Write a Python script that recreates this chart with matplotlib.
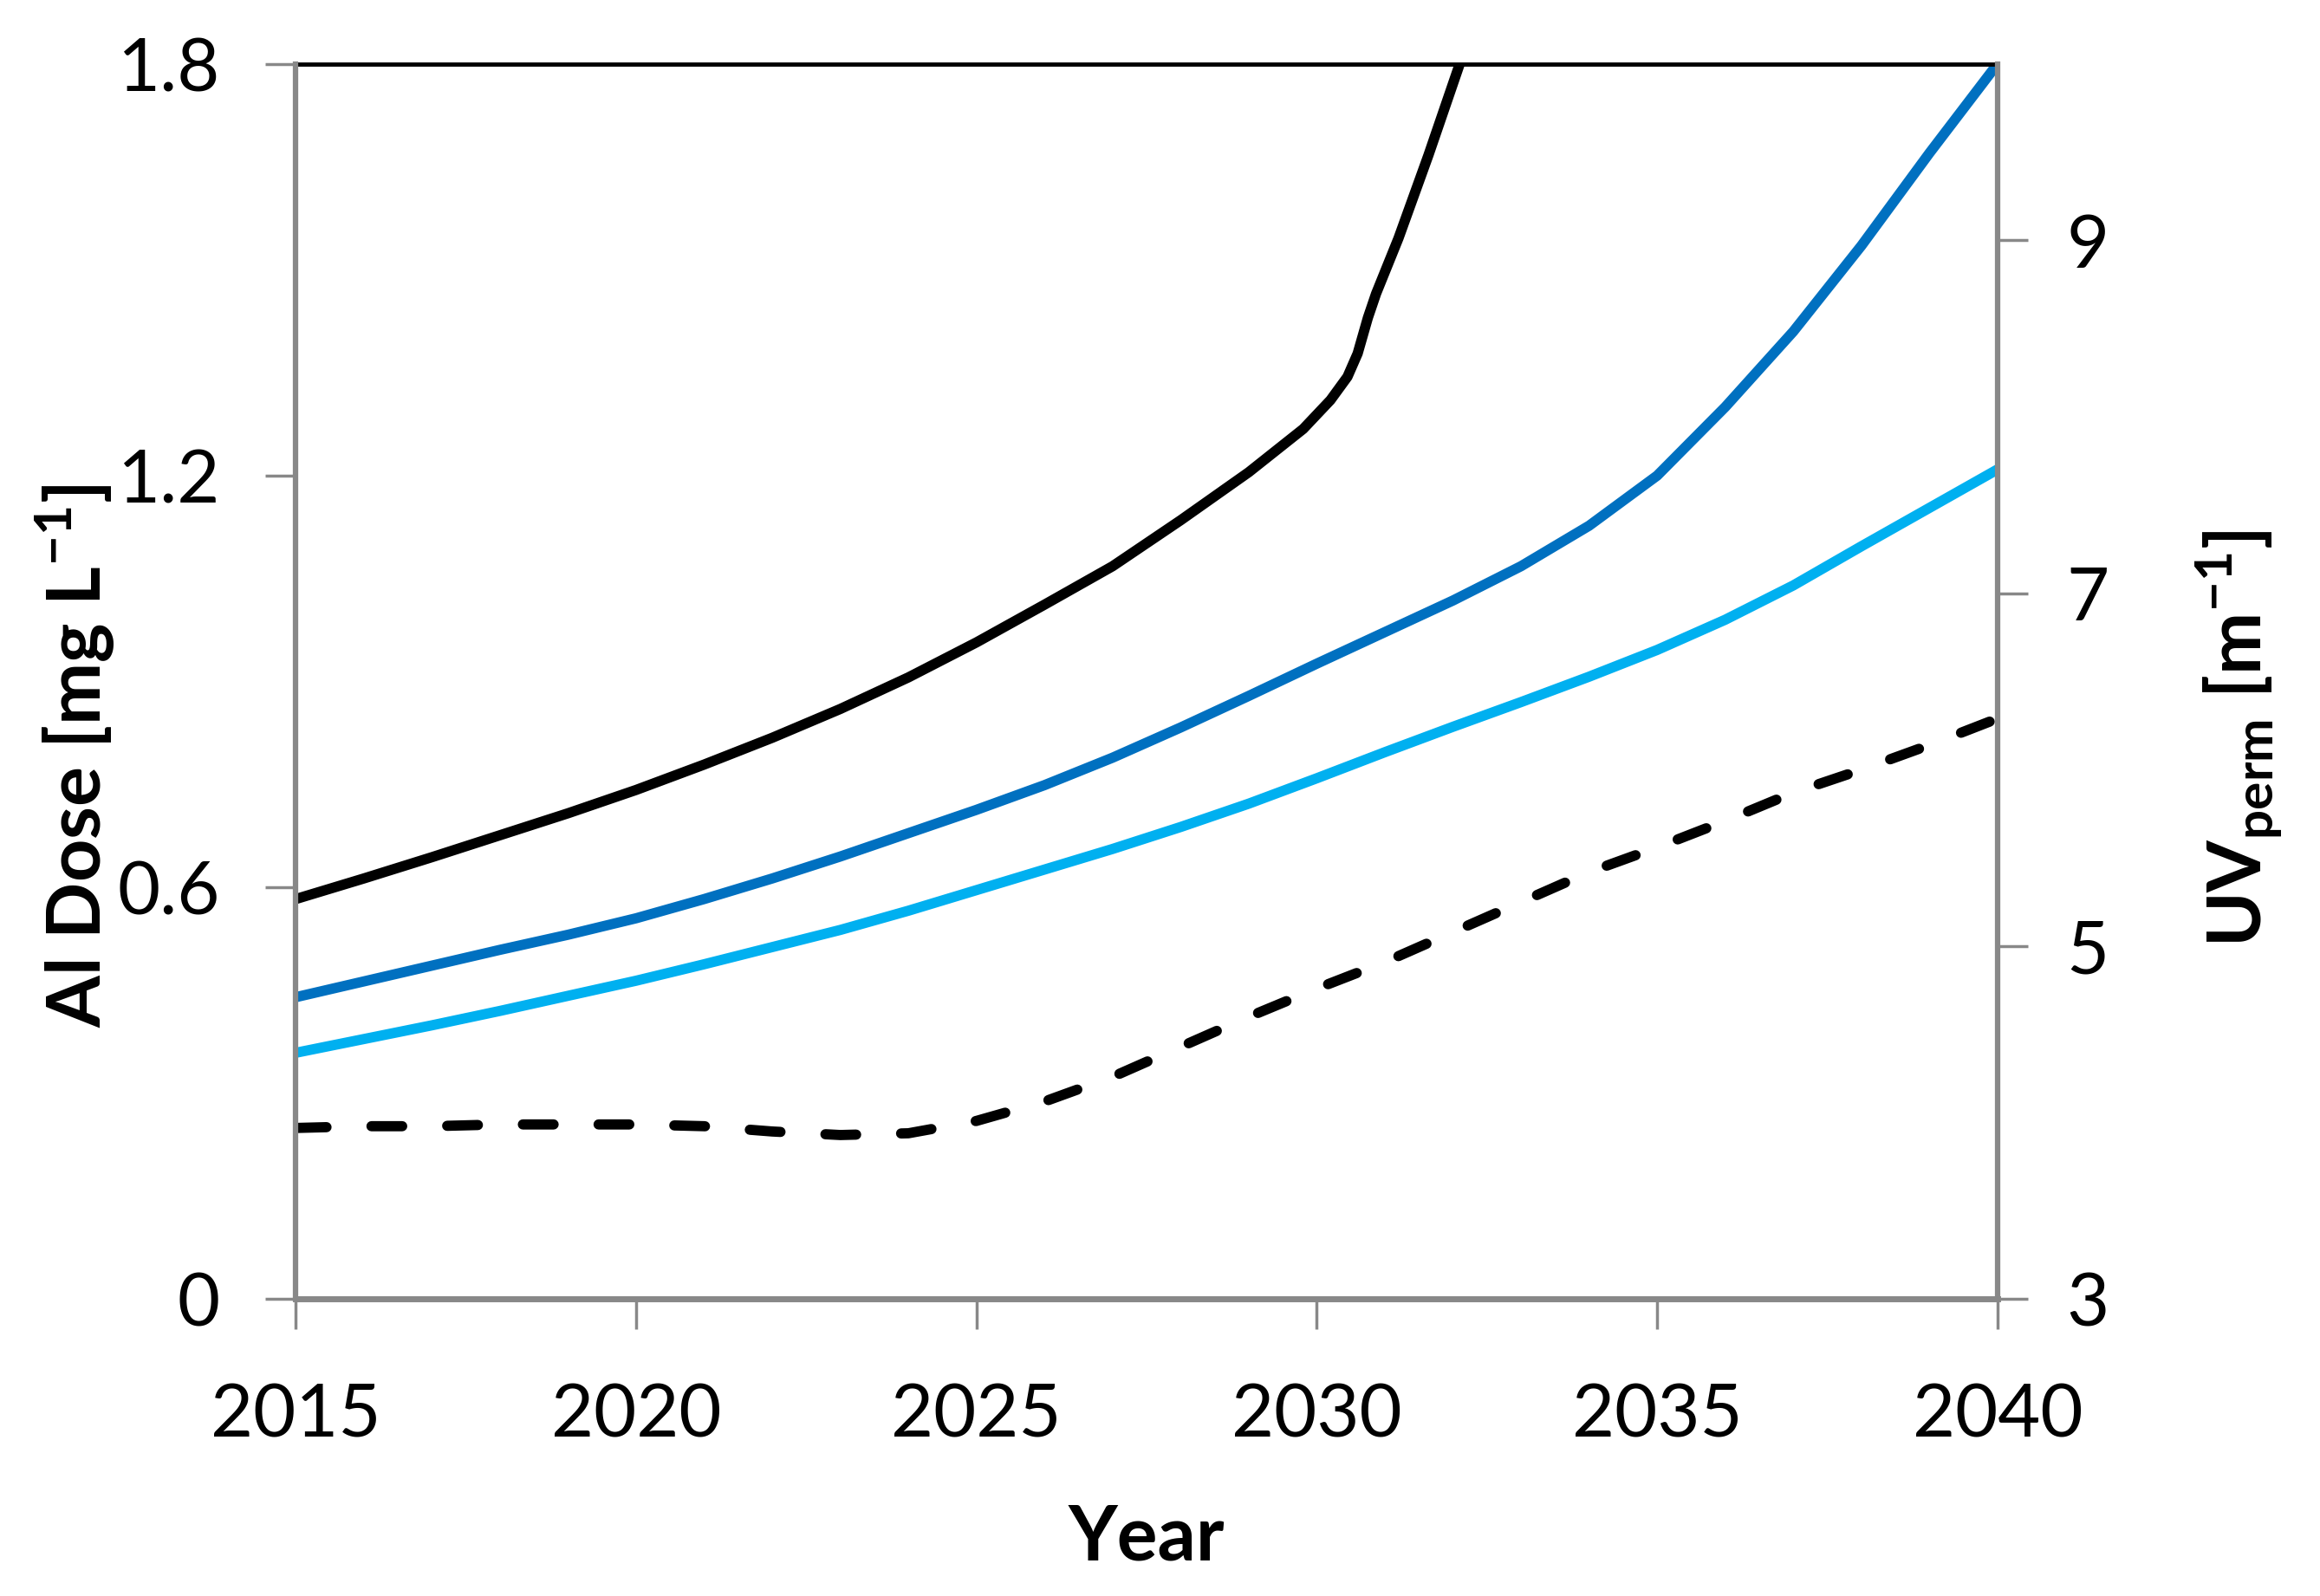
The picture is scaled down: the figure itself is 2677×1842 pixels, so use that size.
import matplotlib
matplotlib.use("Agg")
import matplotlib.pyplot as plt

plt.rcParams['font.family'] = ['Lato', 'DejaVu Sans']
plt.rcParams['mathtext.fontset'] = 'custom'
plt.rcParams['mathtext.rm'] = 'Lato'
plt.rcParams['mathtext.bf'] = 'Lato:bold'

# Data
years_black = [2015, 2016, 2017, 2018, 2019, 2020, 2021, 2022, 2023, 2024, 2025, 2026,
               2027, 2028, 2029, 2029.8, 2030.2, 2030.45, 2030.6, 2030.75, 2030.87,
               2031.2, 2031.64, 2032.1, 2032.4]
al_black = [0.583, 0.613, 0.644, 0.676, 0.708, 0.742, 0.779, 0.818, 0.860, 0.906, 0.957, 1.012,
            1.068, 1.135, 1.205, 1.268, 1.310, 1.344, 1.378, 1.430, 1.465,
            1.546, 1.667, 1.800, 1.890]

years_dark = [2015, 2016, 2017, 2018, 2019, 2020, 2021, 2022, 2023, 2024, 2025, 2026, 2027,
              2028, 2029, 2030, 2031, 2032, 2033, 2034, 2035, 2036, 2037, 2038, 2039, 2040]
al_dark = [0.440, 0.463, 0.486, 0.509, 0.531, 0.555, 0.583, 0.613, 0.645, 0.679, 0.713, 0.749, 0.789,
           0.833, 0.879, 0.926, 0.972, 1.018, 1.068, 1.127, 1.200, 1.300, 1.410, 1.535, 1.670, 1.800]

years_light = [2015, 2016, 2017, 2018, 2019, 2020, 2021, 2022, 2023, 2024, 2025, 2026, 2027,
               2028, 2029, 2030, 2031, 2032, 2033, 2034, 2035, 2036, 2037, 2038, 2039, 2040]
al_light = [0.359, 0.379, 0.399, 0.420, 0.442, 0.464, 0.488, 0.513, 0.538, 0.566, 0.596, 0.626, 0.656,
            0.688, 0.722, 0.759, 0.797, 0.834, 0.870, 0.907, 0.946, 0.990, 1.040, 1.097, 1.153, 1.209]

years_uv = [2015, 2016, 2017, 2018, 2019, 2020, 2021, 2022, 2023, 2024, 2025, 2026, 2027,
            2028, 2029, 2030, 2031, 2032, 2033, 2034, 2035, 2036, 2037, 2038, 2039, 2040]
uv_perm = [3.97, 3.98, 3.98, 3.99, 3.99, 3.99, 3.98, 3.95, 3.93, 3.94, 4.01, 4.12, 4.26,
           4.43, 4.60, 4.76, 4.91, 5.08, 5.25, 5.42, 5.56, 5.71, 5.87, 6.00, 6.14, 6.29]

left_ticks = [0, 0.6, 1.2, 1.8]
left_labels = ['0', '0.6', '1.2', '1.8']
right_ticks = [3, 5, 7, 9]
x_ticks = [2015, 2020, 2025, 2030, 2035, 2040]

fig = plt.figure(figsize=(26.77, 18.42), dpi=100)
ax = fig.add_axes([0.1275, 0.186, 0.7335, 0.774])
ax2 = ax.twinx()

lw = 8.5
ax.plot(years_black, al_black, color='black', lw=lw, solid_capstyle='round')
ax.plot(years_dark, al_dark, color='#0070C0', lw=lw, solid_capstyle='round')
ax.plot(years_light, al_light, color='#00B0F0', lw=lw, solid_capstyle='round')
ax2.plot(years_uv, uv_perm, color='black', lw=lw, linestyle=(0, (3.0, 4.4)),
         dash_capstyle='round')

ax.set_xlim(2015, 2040)
ax.set_ylim(0, 1.8)
ax2.set_ylim(3, 10)
ax.set_xticks(x_ticks)
ax.set_yticks(left_ticks)
ax.set_yticklabels(left_labels)
ax2.set_yticks(right_ticks)

gray = '#888888'
for a in (ax, ax2):
    for s in a.spines.values():
        s.set_visible(False)

ax.spines['top'].set_visible(True)
ax.spines['top'].set_color('black')
ax.spines['top'].set_linewidth(3.5)
ax2.spines['left'].set_visible(True)
ax2.spines['left'].set_color(gray)
ax2.spines['left'].set_linewidth(4.5)
ax2.spines['right'].set_visible(True)
ax2.spines['right'].set_color(gray)
ax2.spines['right'].set_linewidth(4.5)
ax.spines['bottom'].set_visible(True)
ax.spines['bottom'].set_color(gray)
ax.spines['bottom'].set_linewidth(5)

ax.tick_params(axis='both', which='major', direction='out', length=25, width=2.5,
               color=gray, labelsize=61, pad=38)
ax.tick_params(axis='x', pad=44)
ax2.tick_params(axis='y', direction='out', length=25, width=2.5, color=gray,
                labelsize=61, pad=32)

ax.set_xlabel('Year', fontsize=63, fontweight='bold')
ax.xaxis.set_label_coords(0.5, -0.165)
ax.set_ylabel(r'Al Dose [mg L$^{\mathbf{-1}}$]', fontsize=62, fontweight='bold')
ax.yaxis.set_label_coords(-0.105, 0.44)
ax2.set_ylabel(r'UV$_{\mathbf{perm}}$ [m$^{\mathbf{-1}}$]', fontsize=62, fontweight='bold',
               rotation=90)
ax2.yaxis.set_label_coords(1.115, 0.454)

fig.savefig('out.png', dpi=100, facecolor='white')
